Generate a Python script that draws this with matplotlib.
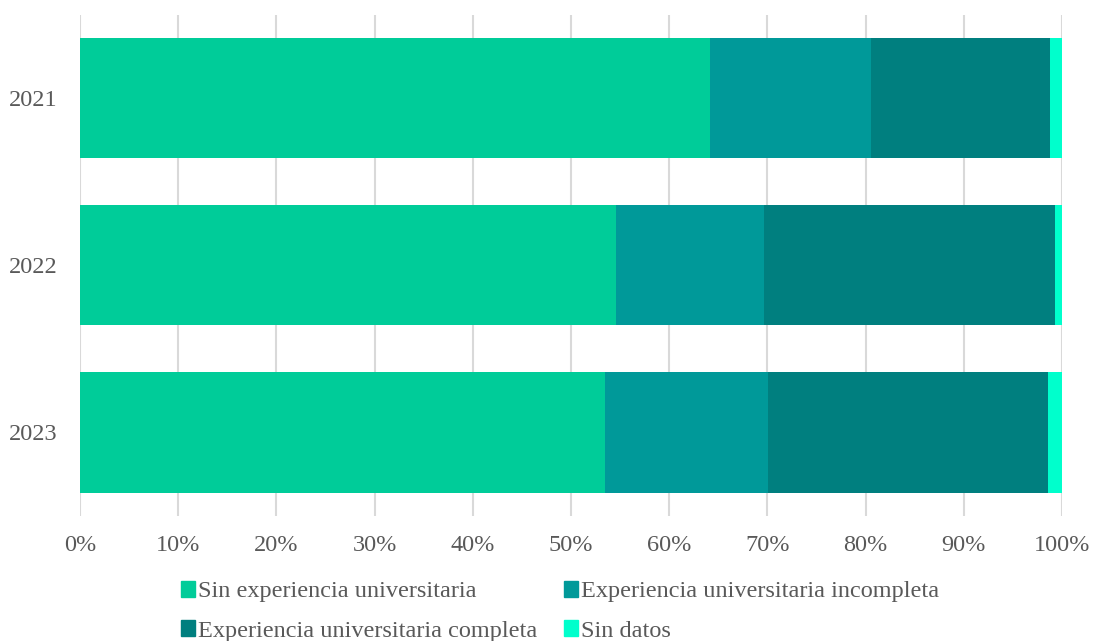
import matplotlib.pyplot as plt
from matplotlib.patches import Patch
from matplotlib.ticker import PercentFormatter

plt.rcParams['font.family'] = ['Liberation Serif', 'DejaVu Serif']

years = ["2021", "2022", "2023"]
series_names = [
    "Sin experiencia universitaria",
    "Experiencia universitaria incompleta",
    "Experiencia universitaria completa",
    "Sin datos",
]
sin_experiencia = [64.2, 54.6, 53.5]
incompleta = [16.3, 15.1, 16.6]
completa = [18.3, 29.6, 28.5]
sin_datos = [1.2, 0.7, 1.4]
colors = ["#00CC99", "#009999", "#007F7F", "#00FFCC"]

series = [sin_experiencia, incompleta, completa, sin_datos]

fig = plt.figure(figsize=(10.93, 6.41), dpi=100)
ax = fig.add_axes([80 / 1093, 125 / 641, 982 / 1093, 501.5 / 641])

pos = list(range(len(years)))
left = [0.0] * len(years)
for name, vals, col in zip(series_names, series, colors):
    ax.barh(pos, vals, left=left, height=0.72, color=col, label=name, zorder=3)
    left = [a + b for a, b in zip(left, vals)]

ax.set_xlim(0, 100)
ax.set_ylim(2.5, -0.5)
ax.set_yticks(pos)
ax.set_yticklabels(years)
ax.set_xticks(range(0, 101, 10))
ax.xaxis.set_major_formatter(PercentFormatter(decimals=0))
ax.grid(axis="x", color="#d9d9d9", linewidth=1.5, zorder=0)
for s in ax.spines.values():
    s.set_visible(False)
ax.tick_params(axis="both", length=0, labelsize=17.5, labelcolor="#595959")
ax.tick_params(axis="x", pad=14)
ax.tick_params(axis="y", pad=16)

handles = [Patch(color=c, label=n) for n, c in zip(series_names, colors)]
order = [0, 2, 1, 3]
fig.legend([handles[i] for i in order], [series_names[i] for i in order],
           ncol=2, loc="upper left", bbox_to_anchor=(169 / 1093, 1 - 569 / 641),
           frameon=False, fontsize=17.5, labelcolor="#595959", borderpad=0,
           handlelength=0.55, handleheight=0.6, handletextpad=0.15,
           columnspacing=1.1, labelspacing=0.74)

fig.savefig("out.png", dpi=100)
